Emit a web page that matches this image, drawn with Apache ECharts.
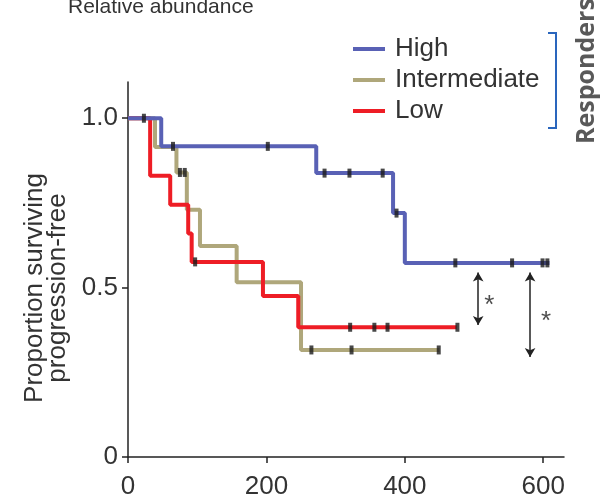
<!DOCTYPE html>
<html>
<head>
<meta charset="utf-8">
<script src="https://cdn.jsdelivr.net/npm/echarts@6/dist/echarts.min.js"></script>
<style>
  html, body { margin: 0; padding: 0; background: #fff; }
  #chart { width: 600px; height: 495px; }
</style>
</head>
<body>
<div id="chart"></div>
<script>
// Kaplan-Meier steps: time (days) and proportion progression-free
const highTimes = [0, 48, 272, 383, 400, 609];
const highSurv = [1, 0.917, 0.838, 0.72, 0.573, 0.573];
const highCensor = [23, 65, 202, 284, 320, 368, 388, 473, 555, 599, 606];

const interTimes = [0, 39, 70, 85, 104, 157, 250, 450];
const interSurv = [1, 0.915, 0.84, 0.73, 0.623, 0.516, 0.316, 0.316];
const interCensor = [75, 82, 265, 323, 449];

const lowTimes = [0, 32, 61, 87, 92, 195, 246, 475];
const lowSurv = [1, 0.83, 0.745, 0.66, 0.576, 0.475, 0.383, 0.383];
const lowCensor = [97, 321, 356, 375, 476];

// significance arrows: [x, yTop, yBottom]
const arrows = [[506, 0.545, 0.39], [581, 0.545, 0.295]];
const starPoints = [[522, 0.446], [604, 0.398]];

const xTicks = [0, 200, 400, 600];
const yTicks = [0, 0.5, 1.0];

const FONT = "'Liberation Sans', Arial, Helvetica, sans-serif";
const colors = { High: '#5961b5', Intermediate: '#afa77b', Low: '#ee1d25' };

function levelAt(times, surv, t) {
  let v = surv[0];
  for (let i = 0; i < times.length; i++) {
    if (times[i] <= t) v = surv[i];
  }
  return v;
}

function curve(name, times, surv, z) {
  return {
    name: name,
    type: 'line',
    step: 'end',
    showSymbol: false,
    z: z,
    lineStyle: { width: 4, color: colors[name] },
    itemStyle: { color: colors[name] },
    data: times.map((t, i) => [t, surv[i]])
  };
}

function censors(name, times, surv, list) {
  return {
    name: name + ' censored',
    type: 'scatter',
    symbol: 'rect',
    symbolSize: [4, 9],
    z: 5,
    itemStyle: { color: '#1a1a1a' },
    data: list.map(t => [t, levelAt(times, surv, t)])
  };
}

const chart = echarts.init(document.getElementById('chart'));

const option = {
  animation: false,
  backgroundColor: '#fff',
  grid: { left: 128, right: 36, top: 82, bottom: 38, outerBoundsMode: 'none' },
  legend: {
    data: ['High', 'Intermediate', 'Low'],
    orient: 'vertical',
    left: 348,
    top: 31,
    icon: 'rect',
    itemWidth: 32,
    itemHeight: 4,
    itemGap: 5,
    textStyle: { fontFamily: FONT, fontSize: 26, color: '#333', padding: [0, 0, 0, 5] }
  },
  xAxis: {
    type: 'value',
    min: 0,
    max: 630,
    splitLine: { show: false },
    axisLine: { lineStyle: { color: '#222', width: 1.5 } },
    axisTick: { length: 6, lineStyle: { color: '#222', width: 1.5 }, customValues: xTicks },
    axisLabel: { customValues: xTicks, fontFamily: FONT, fontSize: 26, color: '#333', margin: 17 }
  },
  yAxis: {
    type: 'value',
    min: 0,
    max: 1.107,
    splitLine: { show: false },
    axisLine: { show: true, lineStyle: { color: '#222', width: 1.5 } },
    axisTick: { show: true, length: 6, lineStyle: { color: '#222', width: 1.5 }, customValues: yTicks },
    axisLabel: {
      customValues: yTicks,
      fontFamily: FONT, fontSize: 26, color: '#333', margin: 10,
      formatter: v => (v === 0 ? '0' : v.toFixed(1))
    }
  },
  series: [
    curve('Intermediate', interTimes, interSurv, 2),
    curve('Low', lowTimes, lowSurv, 3),
    curve('High', highTimes, highSurv, 4),
    censors('Intermediate', interTimes, interSurv, interCensor),
    censors('Low', lowTimes, lowSurv, lowCensor),
    censors('High', highTimes, highSurv, highCensor),
    {
      name: 'arrows',
      type: 'line',
      data: [],
      markLine: {
        silent: true,
        symbol: ['arrow', 'arrow'],
        symbolSize: [8, 9],
        label: { show: false },
        lineStyle: { color: '#222', width: 1.5, type: 'solid' },
        data: arrows.map(a => [{ coord: [a[0], a[1]] }, { coord: [a[0], a[2]] }])
      }
    },
    {
      name: 'stars',
      type: 'scatter',
      symbolSize: 0,
      data: starPoints,
      label: {
        show: true, position: 'inside', formatter: '*',
        fontFamily: FONT, fontSize: 26, color: '#222'
      }
    }
  ],
  graphic: [
    {
      type: 'text', left: 68, top: -3,
      style: { text: 'Relative abundance', font: "21px 'Liberation Sans', Arial, sans-serif", fill: '#333' }
    },
    {
      type: 'text', x: 46, y: 288, rotation: Math.PI / 2,
      style: {
        text: 'Proportion surviving\nprogression-free',
        font: "26px 'Liberation Sans', Arial, sans-serif",
        fill: '#333', align: 'center', verticalAlign: 'middle', lineHeight: 23
      }
    },
    {
      type: 'polyline',
      shape: { points: [[548, 33], [556, 33], [556, 128], [548, 128]] },
      style: { stroke: '#2a66bd', lineWidth: 2, fill: null }
    },
    {
      type: 'text', x: 587, y: 71, rotation: Math.PI / 2,
      style: {
        text: 'Responders',
        font: "bold 25px 'Open Sans', sans-serif",
        fill: '#595959', align: 'center', verticalAlign: 'middle'
      }
    }
  ]
};

chart.setOption(option);
</script>
</body>
</html>
